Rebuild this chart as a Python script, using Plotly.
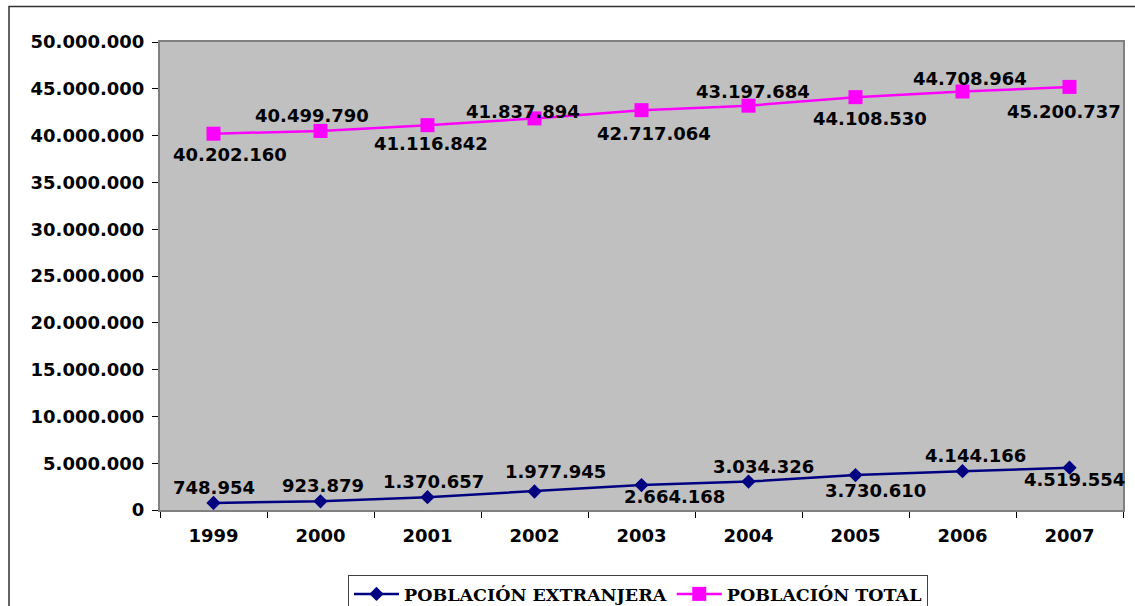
import plotly.graph_objects as go

# Data
years = ["1999", "2000", "2001", "2002", "2003", "2004", "2005", "2006", "2007"]
poblacion_extranjera = [748954, 923879, 1370657, 1977945, 2664168, 3034326, 3730610, 4144166, 4519554]
poblacion_total = [40202160, 40499790, 41116842, 41837894, 42717064, 43197684, 44108530, 44708964, 45200737]

# Pixel offsets of each value label from its marker (dx, dy; positive dy = below)
ext_label_dx = [0, 2, 6, 21, 33, 15, 20, 13, 5]
ext_label_dy = [-15, -16, -16, -20, 11, -15, 15, -16, 12]
tot_label_dx = [16, -9, 3, -12, 12, 4, 14, 7, -6]
tot_label_dy = [21, -15, 18, -7, 23, -14, 21, -13, 25]

NAVY = "#000080"
MAGENTA = "#FF00FF"
SANS = "DejaVu Sans"
SERIF = "DejaVu Serif"


def fmt(v):
    return f"{v:,}".replace(",", ".")


fig = go.Figure()
fig.add_trace(go.Scatter(
    x=years, y=poblacion_extranjera, name="POBLACIÓN EXTRANJERA",
    mode="lines+markers",
    line=dict(color=NAVY, width=2.5),
    marker=dict(symbol="diamond", size=11, color=NAVY),
))
fig.add_trace(go.Scatter(
    x=years, y=poblacion_total, name="POBLACIÓN TOTAL",
    mode="lines+markers",
    line=dict(color=MAGENTA, width=2.5),
    marker=dict(symbol="square", size=14, color=MAGENTA),
))

annotations = []
for values, dxs, dys in ((poblacion_extranjera, ext_label_dx, ext_label_dy),
                         (poblacion_total, tot_label_dx, tot_label_dy)):
    for i, (v, dx, dy) in enumerate(zip(values, dxs, dys)):
        # category axis: annotation x is the category's serial number
        annotations.append(dict(
            x=i, y=v, xref="x", yref="y", text=fmt(v), showarrow=False,
            xanchor="center", yanchor="middle", xshift=dx, yshift=-dy,
            font=dict(family=SANS, size=18, color="black", weight="bold"),
        ))

# Outer chart frame
shapes = [dict(
    type="rect", xref="paper", yref="paper",
    x0=(9 - 160) / 963, x1=(1145 - 160) / 963,
    y0=(510 - 620) / 468, y1=(510 - 6.5) / 468,
    line=dict(color="#303030", width=1.5), fillcolor="rgba(0,0,0,0)", layer="below",
)]

fig.update_layout(
    width=1135, height=606,
    margin=dict(l=160, r=12, t=42, b=96, autoexpand=False),
    paper_bgcolor="white",
    plot_bgcolor="#C0C0C0",
    separators=",.",
    showlegend=True,
    legend=dict(
        orientation="h", x=(348 - 160) / 963, xanchor="left",
        y=(510 - 575) / 468, yanchor="top",
        bgcolor="white", bordercolor="#404040", borderwidth=1,
        font=dict(family=SERIF, size=17.5, color="black", weight="bold"),
        itemwidth=45, tracegroupgap=0,
    ),
    annotations=annotations,
    shapes=shapes,
)
fig.update_xaxes(
    type="category", categoryorder="array", categoryarray=years,
    range=[-0.5, len(years) - 0.5],
    tickson="boundaries", ticks="outside", ticklen=6,
    tickcolor="black", tickwidth=1, tickangle=0,
    showline=True, linecolor="#808080", linewidth=2, mirror=True,
    showgrid=False, zeroline=False,
    tickfont=dict(family=SANS, size=18, color="black", weight="bold"),
    ticklabelstandoff=8,
)
fig.update_yaxes(
    range=[0, 50000000], dtick=5000000, tickformat=",d",
    ticks="outside", ticklen=6, tickcolor="black", tickwidth=1,
    showline=True, linecolor="#808080", linewidth=2, mirror=True,
    showgrid=False, zeroline=False,
    tickfont=dict(family=SANS, size=18, color="black", weight="bold"),
    ticklabelstandoff=4,
)

fig.write_html("out.html")
